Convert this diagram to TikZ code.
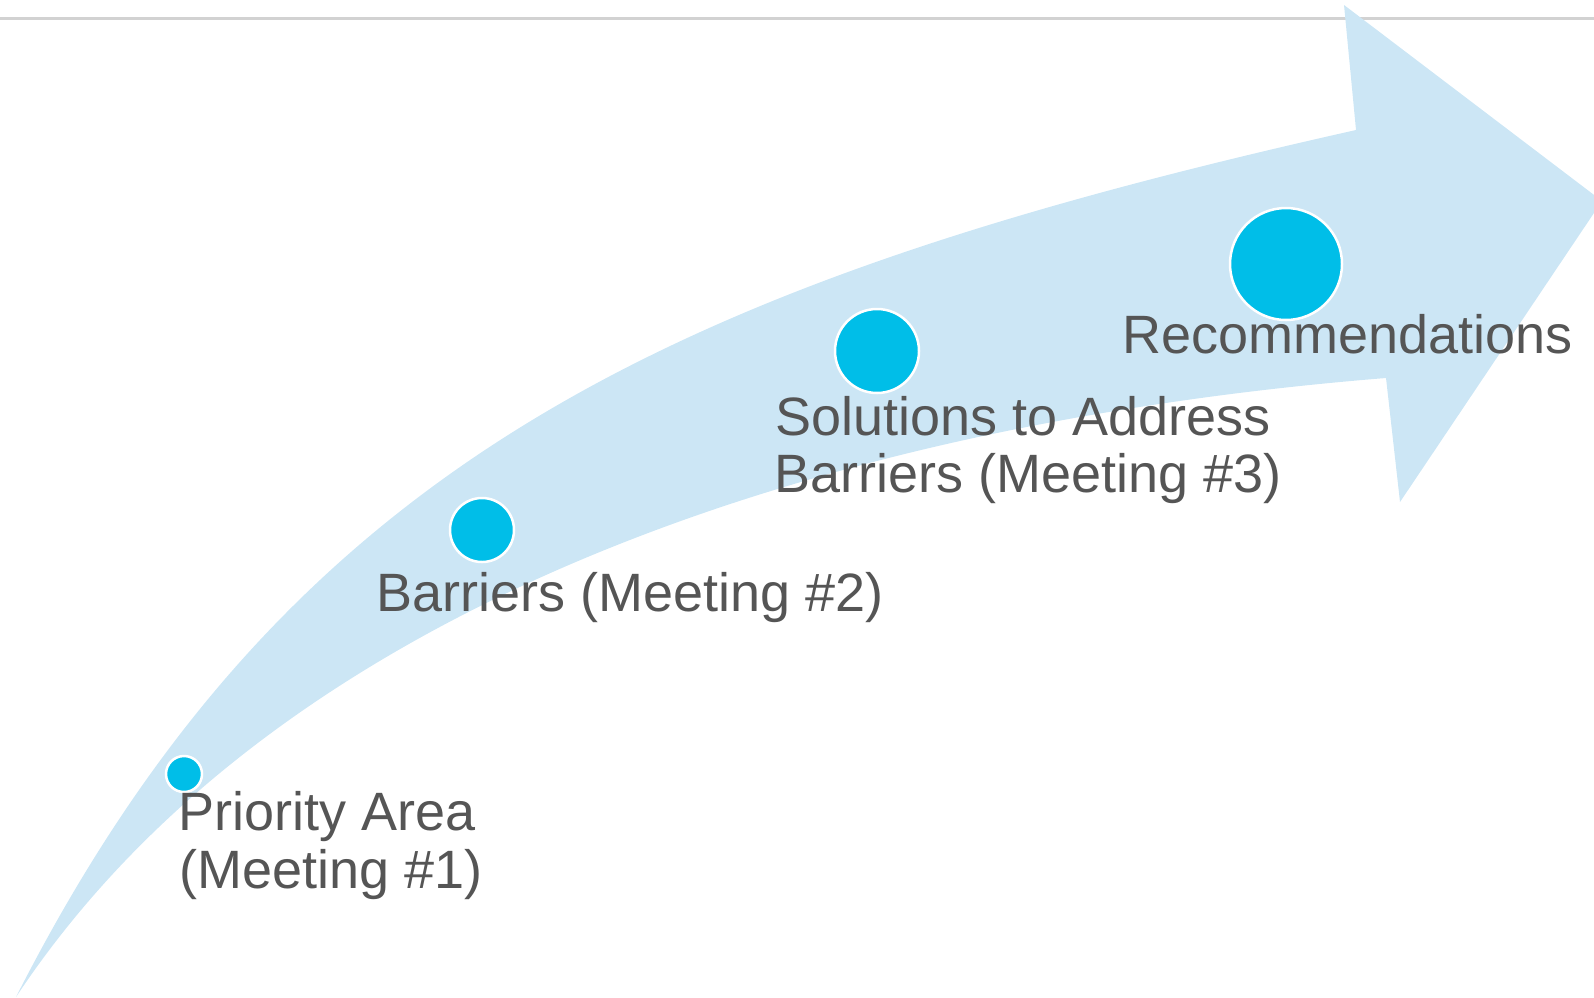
\documentclass[tikz,border=0pt]{standalone}
\usepackage{fontspec}
\setmainfont{Liberation Sans}
\definecolor{arrowblue}{HTML}{CCE6F5}
\definecolor{dotblue}{HTML}{00BEE8}
\definecolor{textgray}{HTML}{555555}
\definecolor{rulegray}{HTML}{D2D2D2}
\begin{document}
\begin{tikzpicture}[x=1pt,y=-1pt,
  lbl/.style={inner sep=0pt, anchor=base west, text=textgray, font=\fontsize{54}{58}\selectfont},
  dot/.style={circle, fill=dotblue, draw=white, line width=2.5pt, inner sep=0pt},
  bigarrow/.style={fill=arrowblue},
  toprule/.style={draw=rulegray, line width=2.7pt}]
\useasboundingbox (0,0) rectangle (1594,997);
\clip (0,0) rectangle (1594,997);
% top rule
\coordinate (ruleL) at (0,18.7);
\coordinate (ruleR) at (1594,18.7);
\draw[toprule] (ruleL) -- (ruleR);
% curved arrow
\fill[bigarrow] (16,997) .. controls (288,462) and (673,283) .. (1356,130)
  -- (1344,5) -- (1602,201) -- (1400,502) -- (1386,378)
  .. controls (838,422) and (281,597) .. (16,997)
  -- cycle;
% dots
\node[dot, minimum size=36pt] (c1) at (184,774) {};
\node[dot, minimum size=64pt] (c2) at (482,530) {};
\node[dot, minimum size=84pt] (c3) at (877,351) {};
\node[dot, minimum size=112pt] (c4) at (1286,264) {};
% labels
\node[lbl] (t1a) at (178,830) {Priority Area};
\node[lbl] (t1b) at (179,888) {(Meeting \#1)};
\node[lbl] (t2) at (376,611) {Barriers (Meeting \#2)};
\node[lbl] (t3a) at (775,435) {Solutions to Address};
\node[lbl] (t3b) at (774,492) {Barriers (Meeting \#3)};
\node[lbl] (t4) at (1122,353) {Recommendations};
\end{tikzpicture}
\end{document}
